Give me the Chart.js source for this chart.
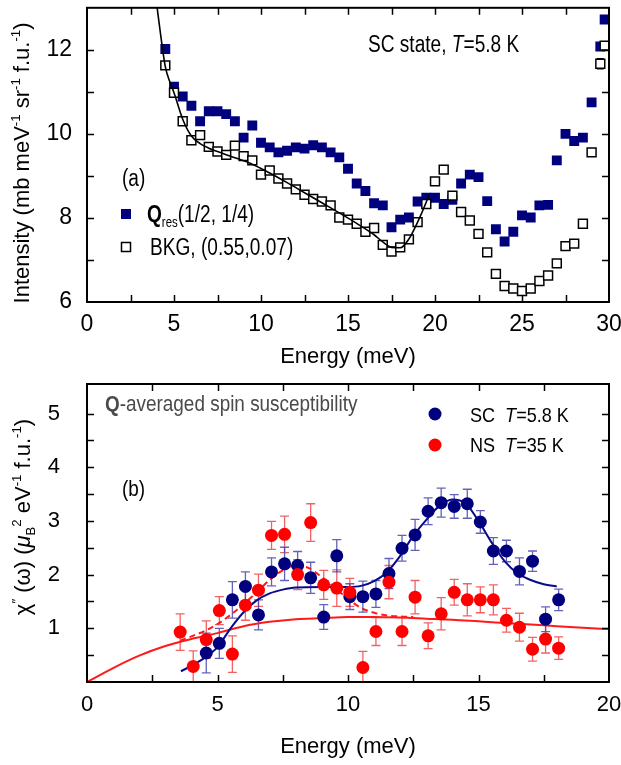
<!DOCTYPE html>
<html><head><meta charset="utf-8">
<script src="https://cdn.jsdelivr.net/npm/chart.js@4/dist/chart.umd.min.js"></script>
<style>html,body{margin:0;padding:0;background:#fff}#wrap{position:relative;width:621px;height:765px}canvas{position:absolute;left:0}</style>
</head><body><div id="wrap"><canvas id="c1" width="621" height="370" style="top:0"></canvas><canvas id="c2" width="621" height="395" style="top:370px"></canvas></div>
<script>
// ---------- Panel (a) data ----------
const energyA = [4.5,5.0,5.5,6.0,6.5,7.0,7.5,8.0,8.5,9.0,9.5,10.0,10.5,11.0,11.5,12.0,12.5,13.0,13.5,14.0,14.5,15.0,15.5,16.0,16.5,17.0,17.5,18.0,18.5,19.0,19.5,20.0,20.5,21.0,21.5,22.0,22.5,23.0,23.5,24.0,24.5,25.0,25.5,26.0,26.5,27.0,27.5,28.0,28.5,29.0,29.5,29.75];
const qresA = [12.02,11.12,10.89,10.67,10.30,10.54,10.54,10.47,10.30,9.91,10.20,9.79,9.68,9.56,9.60,9.68,9.65,9.73,9.68,9.56,9.44,9.17,8.82,8.64,8.35,8.30,7.78,7.96,8.01,8.39,8.48,8.48,8.33,8.43,8.82,9.03,8.97,8.40,7.73,7.44,7.67,8.06,8.01,8.30,8.31,9.37,10.00,9.83,9.91,10.75,12.08,12.72];
const bkgA = [11.63,10.98,10.30,9.85,9.97,9.69,9.58,9.50,9.72,9.47,9.37,9.03,9.13,8.94,8.82,8.68,8.55,8.45,8.39,8.30,8.01,7.96,7.86,7.67,7.76,7.36,7.20,7.30,7.49,7.90,8.33,8.87,9.15,8.53,8.14,7.94,7.62,7.18,6.67,6.38,6.32,6.26,6.32,6.50,6.63,6.92,7.33,7.39,7.86,9.56,11.67,12.10];
const bkgErrA = [0,0,0,0,0,0,0,0,0,0,0,0,0,0,0,0,0,0,0,0,0,0,0,0,0,0,0,0,0,0,0,0,0,0,0,0,0,0,0,0,0,0,0,0,0,0,0,0,0,0,0.12,0];
const fitEnergyA = [4.0,4.25,4.5,4.75,5.0,5.5,6.0,6.5,7.0,7.5,8.5,9.5,10.5,11.5,12.5,13.5,14.5,15.5,16.5,17.0,17.5,18.0,18.5,19.0,19.5,19.65];
const fitIntensityA = [13.1,12.3,11.6,11.25,10.98,10.35,9.95,9.77,9.66,9.58,9.43,9.28,9.07,8.84,8.60,8.36,8.12,7.87,7.60,7.43,7.30,7.29,7.50,7.90,8.38,8.55];
const xTickLabelsA = [0,5,10,15,20,25,30];
const yTickLabelsA = [6,8,10,12];

// ---------- Panel (b) data ----------
const energyNS = [3.57,4.07,4.57,5.07,5.57,6.07,6.57,7.07,7.57,8.07,8.57,9.07,9.57,10.07,10.57,11.07,11.57,12.07,12.57,13.07,13.57,14.07,14.57,15.07,15.57,16.07,16.57,17.07,17.57,18.07];
const chiNS = [0.93,0.29,0.79,1.33,0.52,1.43,1.71,2.73,2.75,2.00,2.97,1.81,1.75,1.67,0.27,0.94,1.86,0.94,1.58,0.86,1.27,1.67,1.53,1.53,1.53,1.15,1.02,0.61,0.80,0.63];
const errNS = [0.34,0.29,0.35,0.26,0.34,0.28,0.30,0.26,0.34,0.28,0.35,0.27,0.34,0.26,0.30,0.26,0.31,0.26,0.31,0.24,0.30,0.24,0.30,0.24,0.28,0.22,0.26,0.22,0.26,0.21];
const energySC = [4.57,5.07,5.57,6.07,6.57,7.07,7.57,8.07,8.57,9.07,9.57,10.07,10.57,11.07,11.57,12.07,12.57,13.07,13.57,14.07,14.57,15.07,15.57,16.07,16.57,17.07,17.57,18.07];
const chiSC = [0.54,0.72,1.53,1.78,1.25,2.05,2.20,2.17,1.94,1.21,2.35,1.59,1.59,1.64,2.02,2.49,2.74,3.18,3.34,3.27,3.32,2.98,2.44,2.44,2.06,2.25,1.17,1.53];
const errSC = [0.37,0.28,0.34,0.27,0.28,0.26,0.31,0.26,0.29,0.23,0.30,0.24,0.29,0.25,0.28,0.24,0.29,0.25,0.27,0.22,0.27,0.21,0.25,0.20,0.25,0.19,0.23,0.20];
const fitSCEnergy = [3.6,4.0,4.5,5.0,5.5,6.0,6.5,7.0,7.5,8.0,9.0,10.0,10.5,11.0,11.5,12.0,12.5,13.0,13.5,14.0,14.5,15.0,15.5,16.0,16.5,17.0,17.5,18.0];
const fitSCChi = [0.20,0.30,0.45,0.65,1.00,1.30,1.52,1.65,1.72,1.76,1.77,1.77,1.79,1.88,2.05,2.35,2.72,3.02,3.28,3.40,3.33,3.00,2.60,2.25,2.02,1.90,1.82,1.78];
const fitNSEnergy = [0,1,2,3,4,5,6,7,8,9,10,11,12,13,14,15,16,17,18,19,20];
const fitNSChi = [0,0.26,0.49,0.67,0.80,0.91,1.04,1.12,1.17,1.19,1.21,1.21,1.20,1.18,1.16,1.13,1.10,1.07,1.04,1.01,0.985];
const dashNSEnergy = [3.57,4.0,4.5,5.0,5.5,6.0,6.5,7.0,7.5,8.0,8.5,9.0,9.5,10.0,10.5,11.0,11.5,12.0,12.5];
const dashNSChi = [0.77,0.85,0.95,1.08,1.25,1.45,1.67,1.90,2.08,2.17,2.12,1.95,1.75,1.55,1.38,1.29,1.24,1.22,1.21];
const xTickLabelsB = [0,5,10,15,20];
const yTickLabelsB = [1,2,3,4,5];

// ---------- helpers ----------
const pts = (xs, ys) => xs.map((x, i) => ({x: x, y: ys[i]}));
const NAVY = '#00007f', RED = '#ff0000';
const SANS = '"Liberation Sans", Arial, sans-serif';
const tickFontA = {family:SANS, size:23};
const tickFontB = {family:SANS, size:22};

function rich(ctx, x, y, parts, o){
  const size=o.size, hs=o.hs||1;
  ctx.save(); ctx.translate(x,y); if(o.rot) ctx.rotate(o.rot); ctx.scale(hs,1);
  ctx.fillStyle=o.color||'#000'; ctx.textBaseline='alphabetic'; ctx.textAlign='left';
  const fontOf=p=>{const s=(p.sub||p.sup)?(p.rs||0.6)*size:size;return (p.i?'italic ':'')+(p.b?'bold ':'')+s+'px '+SANS;};
  let w=0; parts.forEach(p=>{ctx.font=fontOf(p);p._w=ctx.measureText(p.t).width;w+=p._w;});
  let cx=o.align==='center'?-w/2:0;
  parts.forEach(p=>{ctx.font=fontOf(p);const dy=p.sub?size*0.22:(p.sup?-size*0.42:0);ctx.fillText(p.t,cx,dy);cx+=p._w;});
  ctx.restore();
}

const errorBars = {
  id:'errorBars',
  beforeDatasetsDraw(chart){
    const {ctx, chartArea:a, scales:{x,y}} = chart;
    ctx.save(); ctx.beginPath(); ctx.rect(a.left,a.top,a.right-a.left,a.bottom-a.top); ctx.clip();
    chart.data.datasets.forEach(ds=>{
      if(!ds.errors) return;
      ctx.strokeStyle=ds.errorColor; ctx.lineWidth=1.3;
      const cap=ds.errorCap||4.5;
      ds.data.forEach((p,j)=>{
        const e=ds.errors[j]; if(!e) return;
        const px=x.getPixelForValue(p.x), y1=y.getPixelForValue(p.y-e), y2=y.getPixelForValue(p.y+e);
        ctx.beginPath(); ctx.moveTo(px,y1); ctx.lineTo(px,y2);
        ctx.moveTo(px-cap,y1); ctx.lineTo(px+cap,y1); ctx.moveTo(px-cap,y2); ctx.lineTo(px+cap,y2); ctx.stroke();
      });
    });
    ctx.restore();
  }
};

const frame = {
  id:'frame',
  afterDraw(chart, args, opts){
    const {ctx, chartArea:a, scales:{x,y}} = chart;
    ctx.save(); ctx.strokeStyle='#000'; ctx.lineWidth=1.5;
    const L=7;
    ctx.beginPath();
    x.ticks.forEach(t=>{ if(t.value<=x.min+1e-9||t.value>=x.max-1e-9) return; const px=Math.round(x.getPixelForValue(t.value))+0.5;
      ctx.moveTo(px,a.bottom); ctx.lineTo(px,a.bottom-L); ctx.moveTo(px,a.top); ctx.lineTo(px,a.top+L); });
    y.ticks.forEach(t=>{ if(t.value<=y.min+1e-9||t.value>=y.max-1e-9) return; const py=Math.round(y.getPixelForValue(t.value))+0.5;
      ctx.moveTo(a.left,py); ctx.lineTo(a.left+L,py); ctx.moveTo(a.right,py); ctx.lineTo(a.right-L,py); });
    ctx.stroke();
    ctx.lineWidth=2; ctx.strokeRect(a.left,a.top,a.right-a.left,a.bottom-a.top);
    ctx.restore();
    if(opts.draw) opts.draw(ctx);
  }
};

function axisX(min,max,step,labels,font,pad,h){
  return {type:'linear',min:min,max:max,grid:{display:false,drawTicks:false},border:{display:false},
    ticks:{stepSize:step,autoSkip:false,maxRotation:0,padding:pad,color:'#000',font:font,
      callback:v=>labels.some(l=>Math.abs(l-v)<1e-6)?String(Math.round(v)):''},
    afterFit(s){s.height=h;s.paddingLeft=0;s.paddingRight=0;}};
}
function axisY(min,max,step,labels,font,pad,w){
  return {type:'linear',min:min,max:max,grid:{display:false,drawTicks:false},border:{display:false},
    ticks:{stepSize:step,autoSkip:false,padding:pad,color:'#000',font:font,
      callback:v=>labels.some(l=>Math.abs(l-v)<1e-6)?String(Math.round(v)):''},
    afterFit(s){s.width=w;s.paddingTop=0;s.paddingBottom=0;}};
}

// ---------- Chart (a) ----------
new Chart(document.getElementById('c1'), {
  type:'scatter',
  data:{datasets:[
    {type:'line', label:'fit', data:pts(fitEnergyA,fitIntensityA), borderColor:'#000', borderWidth:1.6, pointRadius:0, fill:false, cubicInterpolationMode:'monotone', order:0},
    {label:'BKG, (0.55,0.07)', data:pts(energyA,bkgA), pointStyle:'rect', pointRadius:6.3, backgroundColor:'#fff', borderColor:'#000', borderWidth:1.5, errors:bkgErrA, errorColor:'#000', errorCap:3.5, order:1},
    {label:'Qres(1/2, 1/4)', data:pts(energyA,qresA), pointStyle:'rect', pointRadius:7, backgroundColor:NAVY, borderColor:NAVY, borderWidth:0, order:2}
  ]},
  options:{responsive:false, animation:false, events:[], devicePixelRatio:1,
    layout:{padding:{left:0,right:12,top:2,bottom:0}},
    plugins:{legend:{display:false}, tooltip:{enabled:false},
      frame:{draw(ctx){
        rich(ctx,29,163,[{t:'Intensity (mb meV'},{t:'-1',sup:1},{t:' sr'},{t:'-1',sup:1},{t:' f.u.'},{t:'-1',sup:1},{t:')'}],{size:22,rot:-Math.PI/2,align:'center'});
        rich(ctx,348,363,[{t:'Energy (meV)'}],{size:22,align:'center'});
        rich(ctx,368,52,[{t:'SC state, '},{t:'T',i:1},{t:'=5.8 K'}],{size:23,hs:0.83});
        rich(ctx,122,186,[{t:'(a)'}],{size:23,hs:0.83});
        ctx.fillStyle=NAVY; ctx.fillRect(121,209,10,10);
        rich(ctx,147,222,[{t:'Q',b:1},{t:'res',sub:1},{t:'(1/2, 1/4)'}],{size:23,hs:0.83});
        ctx.strokeStyle='#000'; ctx.lineWidth=1.5; ctx.strokeRect(121.5,242.5,9,9);
        rich(ctx,150,255,[{t:'BKG, (0.55,0.07)'}],{size:23,hs:0.83});
      }}},
    scales:{x:axisX(0,30,2.5,xTickLabelsA,tickFontA,9,68), y:axisY(6,13,1,yTickLabelsA,tickFontA,15,87)}
  },
  plugins:[errorBars, frame]
});

// ---------- Chart (b) ----------
new Chart(document.getElementById('c2'), {
  type:'scatter',
  data:{datasets:[
    {label:'NS T=35 K', data:pts(energyNS,chiNS), pointStyle:'circle', pointRadius:6.5, backgroundColor:RED, borderColor:RED, borderWidth:0, errors:errNS, errorColor:'rgba(240,70,70,0.85)', order:0},
    {label:'SC T=5.8 K', data:pts(energySC,chiSC), pointStyle:'circle', pointRadius:6.5, backgroundColor:NAVY, borderColor:NAVY, borderWidth:0, errors:errSC, errorColor:'rgba(70,70,175,0.85)', order:1},
    {type:'line', label:'SC fit', data:pts(fitSCEnergy,fitSCChi), borderColor:'#0a0a8c', borderWidth:2, pointRadius:0, fill:false, cubicInterpolationMode:'monotone', order:2},
    {type:'line', label:'NS fit', data:pts(fitNSEnergy,fitNSChi), borderColor:'#ff1a1a', borderWidth:2, pointRadius:0, fill:false, cubicInterpolationMode:'monotone', order:3},
    {type:'line', label:'NS dashed', data:pts(dashNSEnergy,dashNSChi), borderColor:'#ff1a1a', borderWidth:2, borderDash:[6,4], pointRadius:0, fill:false, cubicInterpolationMode:'monotone', order:4}
  ]},
  options:{responsive:false, animation:false, events:[], devicePixelRatio:1,
    layout:{padding:{left:0,right:12,top:14,bottom:0}},
    plugins:{legend:{display:false}, tooltip:{enabled:false},
      frame:{draw(ctx){
        rich(ctx,30,147,[{t:'χ'},{t:'″',sup:1},{t:' (ω) ('},{t:'μ',i:1},{t:'B',sub:1},{t:'2',sup:1},{t:' eV'},{t:'-1',sup:1},{t:' f.u.'},{t:'-1',sup:1},{t:')'}],{size:22,rot:-Math.PI/2,align:'center'});
        rich(ctx,348,383,[{t:'Energy (meV)'}],{size:22,align:'center'});
        rich(ctx,105,41,[{t:'Q',b:1},{t:'-averaged spin susceptibility'}],{size:22,hs:0.86,color:'#4a4a4a'});
        ctx.fillStyle=NAVY; ctx.beginPath(); ctx.arc(435,44,6.5,0,Math.PI*2); ctx.fill();
        ctx.fillStyle=RED; ctx.beginPath(); ctx.arc(435,75,6.5,0,Math.PI*2); ctx.fill();
        rich(ctx,470,52,[{t:'SC  '},{t:'T',i:1},{t:'=5.8 K'}],{size:21,hs:0.86});
        rich(ctx,470,82,[{t:'NS  '},{t:'T',i:1},{t:'=35 K'}],{size:21,hs:0.86});
        rich(ctx,122,126,[{t:'(b)'}],{size:22,hs:0.86});
      }}},
    scales:{x:axisX(0,20,2.5,xTickLabelsB,tickFontB,10,83), y:axisY(0,5.55,0.5,yTickLabelsB,tickFontB,27,87)}
  },
  plugins:[errorBars, frame]
});
</script></body></html>
